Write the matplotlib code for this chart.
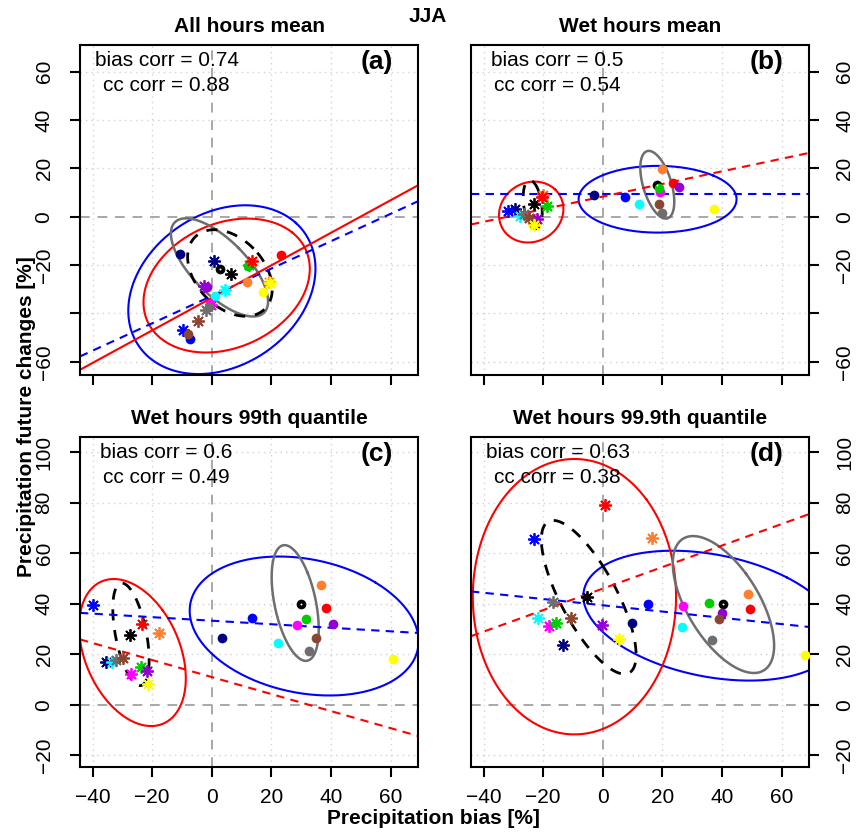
import numpy as np
import matplotlib
matplotlib.use("Agg")
import matplotlib.pyplot as plt

plt.rcParams['font.family'] = ['Liberation Sans', 'DejaVu Sans']

# model colours (same order in every array below)
colors = ["#000080", "#0000FF", "#00FFFF", "#FF00FF", "#000000", "#00CD00",
          "#6E6E6E", "#FF7F30", "#FF0000", "#9400D3", "#8B4530", "#FFFF00"]

titles = ["All hours mean", "Wet hours mean", "Wet hours 99th quantile", "Wet hours 99.9th quantile"]
panel_tags = ["(a)", "(b)", "(c)", "(d)"]
bias_corr = ["0.74", "0.5", "0.6", "0.63"]
cc_corr = ["0.88", "0.54", "0.49", "0.38"]

# filled dots
dot_x_a = [-10.6, -7.4, 1.1, -0.5, 2.7, 12.3, -1.0, 11.9, 23.3, -1.5, -7.8, 17.1]
dot_y_a = [-15.5, -50.5, -32.7, -36.0, -21.5, -20.6, -37.5, -27.2, -15.7, -29.3, -48.4, -31.1]
dot_x_b = [-2.9, 7.5, 12.1, 19.1, 18.3, 19.0, 19.8, 20.0, 23.5, 25.7, 18.8, 37.3]
dot_y_b = [9.0, 8.0, 5.4, 10.4, 13.0, 11.9, 1.4, 19.7, 14.1, 12.1, 5.2, 3.2]
dot_x_c = [3.4, 13.6, 22.2, 28.5, 29.8, 31.5, 32.5, 36.5, 38.4, 40.6, 35.1, 60.9]
dot_y_c = [26.6, 34.2, 24.6, 31.4, 40.1, 34.0, 21.5, 47.5, 38.4, 31.8, 26.4, 18.1]
dot_x_d = [9.9, 15.2, 26.6, 27.0, 40.2, 35.5, 36.5, 48.9, 49.5, 39.9, 39.1, 67.8]
dot_y_d = [32.3, 40.1, 30.9, 39.3, 39.8, 40.3, 25.8, 44.0, 38.1, 36.3, 33.8, 19.8]

# asterisks
star_x_a = [0.9, -9.5, 4.4, -0.2, 6.4, 12.6, -1.8, 19.3, 13.6, -2.6, -4.5, 19.6]
star_y_a = [-18.2, -46.8, -30.5, -36.4, -23.7, -20.2, -38.8, -27.0, -18.2, -28.8, -43.3, -27.5]
star_x_b = [-29.6, -31.8, -27.6, -23.0, -23.2, -18.8, -26.3, -20.1, -20.5, -22.1, -24.6, -22.9]
star_y_b = [3.0, 2.3, 0.3, -1.5, 5.1, 4.4, 1.1, 9.0, 8.0, -1.1, -0.7, -3.5]
star_x_c = [-35.5, -40.0, -33.5, -27.1, -27.5, -23.8, -32.2, -17.6, -23.5, -21.6, -29.9, -21.3]
star_y_c = [16.8, 39.4, 17.0, 12.4, 27.6, 15.1, 17.7, 28.4, 31.9, 13.2, 18.7, 8.2]
star_x_d = [-13.2, -22.9, -21.6, -18.1, -5.4, -15.6, -16.8, 16.5, 0.8, -0.3, -10.6, 5.6]
star_y_d = [23.7, 65.8, 34.2, 31.3, 42.5, 32.3, 40.7, 66.1, 79.2, 31.7, 34.2, 25.9]

# ellipses: centre x, centre y, half width, half height, correlation
ell_blue = [(3.4, -30.2, 31.4, 34.9, 0.25), (18.4, 7.2, 26.5, 13.8, 0.0),
            (31.0, 31.2, 38.4, 27.5, -0.22), (36.3, 35.3, 42.8, 25.7, -0.30)]
ell_red = [(5.0, -28.5, 27.9, 27.7, 0.25), (-24.0, 1.9, 10.8, 12.6, 0.1),
           (-26.6, 20.7, 17.9, 29.1, -0.35), (-9.5, 42.8, 34.1, 54.5, 0.0)]
ell_gray = [(2.6, -21.0, 16.3, 20.3, -0.69), (18.3, 13.2, 5.7, 14.0, -0.5),
            (28.0, 40.3, 7.9, 22.9, -0.45), (40.5, 39.7, 17.0, 27.1, -0.6)]
ell_black = [(6.1, -23.3, 14.2, 17.9, -0.37), (-23.5, 5.0, 3.2, 10.0, -0.3),
             (-27.1, 27.9, 6.1, 20.3, -0.5), (-4.7, 42.6, 15.9, 30.4, -0.75)]

# fitted lines: intercept, slope
line_blue = [(-32.8, 0.566), (9.2, 0.0), (33.3, -0.070), (39.4, -0.124)]
line_red = [(-33.6, 0.673), (8.3, 0.261), (11.0, -0.337), (46.0, 0.426)]
line_red_style = ["-", "--", "--", "--"]

dots_x = [dot_x_a, dot_x_b, dot_x_c, dot_x_d]
dots_y = [dot_y_a, dot_y_b, dot_y_c, dot_y_d]
stars_x = [star_x_a, star_x_b, star_x_c, star_x_d]
stars_y = [star_y_a, star_y_b, star_y_c, star_y_d]

x_ticks = [-40, -20, 0, 20, 40, 60]
y_ticks_top = [-60, -40, -20, 0, 20, 40, 60]
y_labels_top = ["\u221260", "", "\u221220", "0", "20", "40", "60"]
y_ticks_bot = [-20, 0, 20, 40, 60, 80, 100]


def ellipse_xy(cx, cy, rx, ry, rho):
    t = np.linspace(0, 2 * np.pi, 300)
    d = np.arccos(rho)
    return cx + rx * np.cos(t + d / 2), cy + ry * np.cos(t - d / 2)


W, H = 861, 833
fig = plt.figure(figsize=(W / 100, H / 100), dpi=100)

boxes = [(80, 45), (471, 45), (80, 437), (471, 437)]
for i in range(4):
    left, top = boxes[i]
    ax = fig.add_axes([left / W, (H - top - 330) / H, 338 / W, 330 / H])
    ax.set_xlim(-44.2, 69.2)
    if i < 2:
        ax.set_ylim(-65.5, 71.0)
        yt, yl = y_ticks_top, y_labels_top
    else:
        ax.set_ylim(-24.6, 106.0)
        yt, yl = y_ticks_bot, [str(v).replace("-", "\u2212") for v in y_ticks_bot]

    # grid
    for v in x_ticks:
        if v != 0:
            ax.axvline(v, color="#d2d2d2", lw=1, ls=(0, (1, 3)), zorder=0)
    for v in yt:
        if v != 0:
            ax.axhline(v, color="#d2d2d2", lw=1, ls=(0, (1, 3)), zorder=0)
    ax.axvline(0, color="#a8a8a8", lw=1.4, ls=(0, (5, 4)), zorder=0.5)
    ax.axhline(0, color="#a8a8a8", lw=1.4, ls=(0, (5, 4)), zorder=0.5)

    # ellipses
    ex, ey = ellipse_xy(*ell_blue[i])
    ax.plot(ex, ey, color="#0000FF", lw=1.5, zorder=2)
    ex, ey = ellipse_xy(*ell_red[i])
    ax.plot(ex, ey, color="#FF0000", lw=1.5, zorder=2)
    ex, ey = ellipse_xy(*ell_gray[i])
    ax.plot(ex, ey, color="#6E6E6E", lw=1.8, zorder=2)
    ex, ey = ellipse_xy(*ell_black[i])
    ax.plot(ex, ey, color="black", lw=2, ls=(0, (4, 3.5)), zorder=2)

    # fitted lines
    xx = np.array([-44.2, 69.2])
    ax.plot(xx, line_blue[i][0] + line_blue[i][1] * xx, color="#0000FF", lw=1.5,
            ls=(0, (4, 3)), zorder=2)
    ls = line_red_style[i] if line_red_style[i] == "-" else (0, (4, 3))
    ax.plot(xx, line_red[i][0] + line_red[i][1] * xx, color="#FF0000", lw=1.5,
            ls=ls, zorder=2)

    # points
    for k in range(12):
        ax.plot(dots_x[i][k], dots_y[i][k], "o", color=colors[k], ms=7, mew=0, zorder=3)
        ax.plot(stars_x[i][k], stars_y[i][k], marker=(8, 2, 0), color=colors[k],
                ms=9, mew=1.3, ls="none", zorder=3)
    # white centre of the black dot
    ax.plot(dots_x[i][4], dots_y[i][4], "o", color="white", ms=1.4, mew=0, zorder=3.5)

    # texts
    ax.text(0.256, 0.935, "bias corr = " + bias_corr[i], transform=ax.transAxes,
            ha="center", va="baseline", fontsize=15)
    ax.text(0.256, 0.862, "cc corr = " + cc_corr[i], transform=ax.transAxes,
            ha="center", va="baseline", fontsize=15)
    ax.text(0.925, 0.948, panel_tags[i], transform=ax.transAxes, ha="right",
            va="center", fontsize=19, fontweight="bold")
    ax.set_title(titles[i], fontsize=15, fontweight="bold", pad=9)

    # axes
    for s in ax.spines.values():
        s.set_linewidth(1.5)
    ax.set_xticks(x_ticks)
    if i < 2:
        ax.set_xticklabels([])
    else:
        ax.set_xticklabels([str(v).replace("-", "\u2212") for v in x_ticks])
    ax.set_yticks(yt)
    ax.set_yticklabels(yl, rotation=90, va="center")
    if i in (1, 3):
        ax.yaxis.tick_right()
    ax.tick_params(direction="out", length=7, width=1.5, labelsize=15)
    ax.tick_params(axis="y", pad=12)
    ax.tick_params(axis="x", pad=8)

fig.text(428 / W, 1 - 17 / H, "JJA", ha="center", va="center", fontsize=15, fontweight="bold")
fig.text(27 / W, 0.5, "Precipitation future changes [%]", ha="center", va="center",
         rotation=90, fontsize=15, fontweight="bold")
fig.text(433 / W, 1 - 819 / H, "Precipitation bias [%]", ha="center", va="center",
         fontsize=15, fontweight="bold")

fig.savefig("out.png", dpi=100)
